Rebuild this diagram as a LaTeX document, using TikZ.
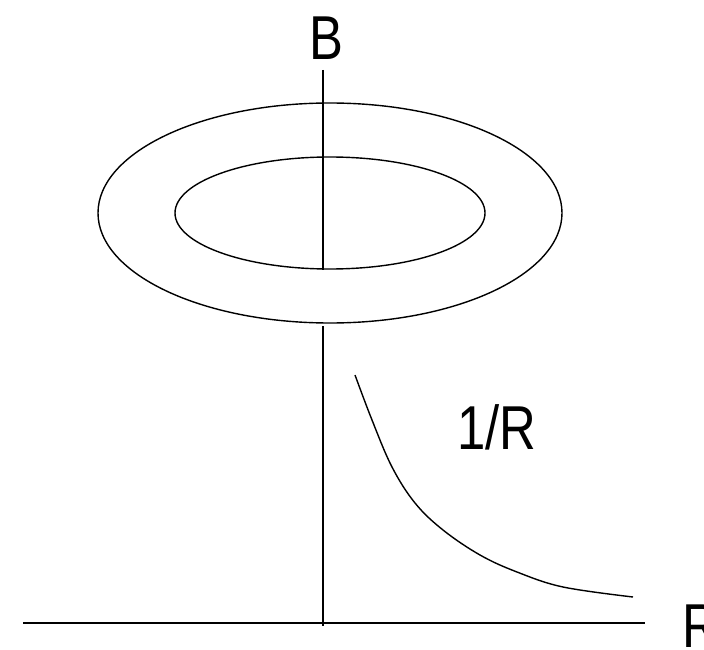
\documentclass[tikz,border=0pt]{standalone}
\usepackage{fontspec}
\setmainfont{Liberation Sans}
\begin{document}
\begin{tikzpicture}[x=1pt,y=-1pt,
  ln/.style={line width=1.4pt,black},
  lbl/.style={font=\fontsize{62}{62}\selectfont,inner sep=0pt,xscale=0.82}]
\useasboundingbox (0,0) rectangle (704,650);
% labels
\node[lbl] (B) at (326,38) {B};
\node[lbl] (inv) at (497,427) {1/R};
\node[lbl,anchor=west] (R) at (682,626) {R};
% axis coordinates
\coordinate (vtop) at (323,70);
\coordinate (vin) at (323,270);
\coordinate (vout) at (323,326);
\coordinate (vbot) at (323,626);
\coordinate (hl) at (23,623);
\coordinate (hr) at (645,623);
% ellipses
\draw[ln] (330,213) ellipse [x radius=232, y radius=110];
\draw[ln] (330,213) ellipse [x radius=155, y radius=56];
% axes
\draw[ln] (vtop) -- (vin);
\draw[ln] (vout) -- (vbot);
\draw[ln] (hl) -- (hr);
% 1/R curve
\draw[ln] plot[smooth,tension=0.6] coordinates {(355,375) (372,420) (392,467) (415,503) (443,530) (480,555) (517,572) (563,587) (633,597)};
\end{tikzpicture}
\end{document}
